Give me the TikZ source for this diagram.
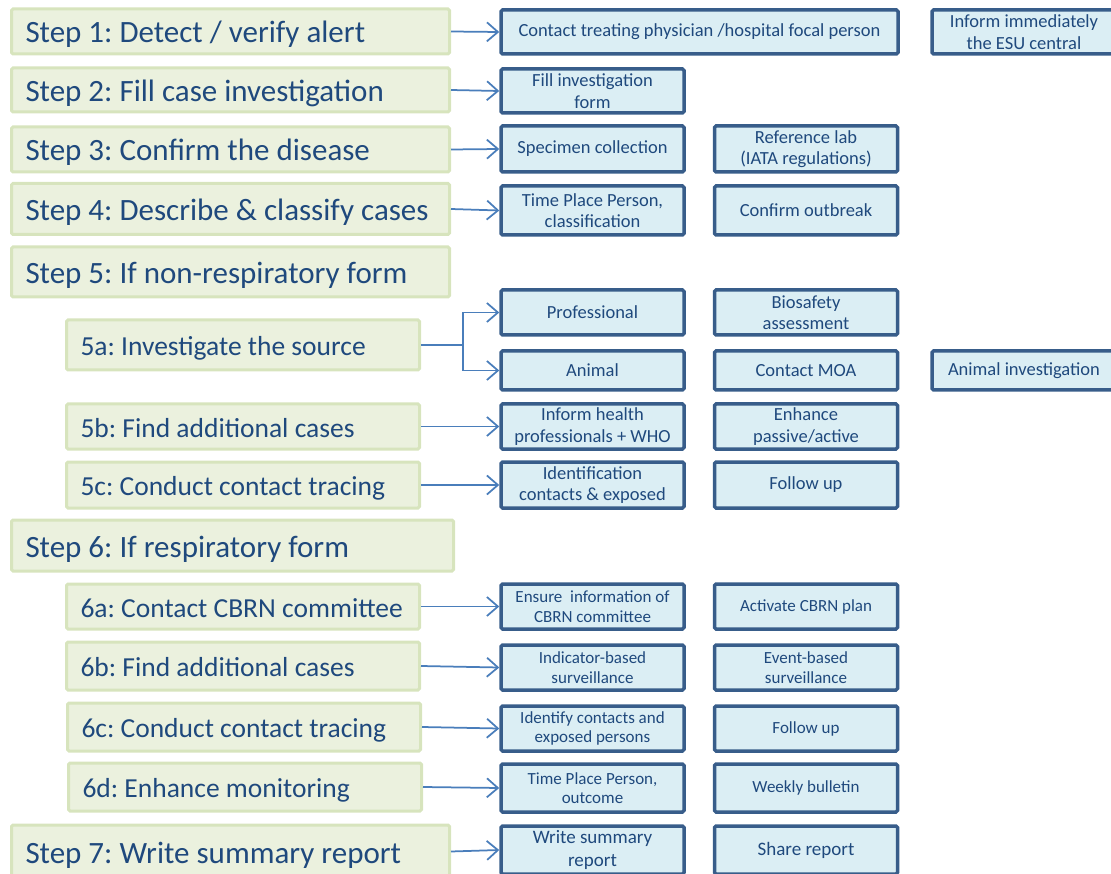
\documentclass[tikz,border=0pt]{standalone}
\usepackage{fontspec}
\setmainfont{Carlito}
\usetikzlibrary{arrows.meta}

\definecolor{stepfill}{HTML}{EBF1DE}
\definecolor{stepline}{HTML}{D7E4BD}
\definecolor{taskfill}{HTML}{DBEEF4}
\definecolor{taskline}{HTML}{385D8A}
\definecolor{textblue}{HTML}{1F497D}
\definecolor{arrowblue}{HTML}{4A7EBB}

\tikzset{
  stepbox/.style={draw=stepline, fill=stepfill, line width=3pt, rounded corners=1.5pt,
    anchor=west, inner xsep=14pt, inner ysep=0pt, text width=410pt, align=flush left,
    text height=23pt, text depth=0pt, text=textblue, font=\fontsize{31}{34}\selectfont},
  substepbox/.style={stepbox, text width=325pt, text height=21pt,
    font=\fontsize{27.5}{30}\selectfont},
  taskbox/.style={draw=taskline, fill=taskfill, line width=3.5pt, rounded corners=1.5pt,
    inner sep=0pt, minimum width=183pt, minimum height=45pt, align=flush center,
    text=textblue, font=\fontsize{18.5}{21.5}\selectfont},
  smalltask/.style={taskbox, font=\fontsize{17}{19.5}\selectfont},
  flow/.style={draw=arrowblue, line width=1.75pt, -{Straight Barb[length=11pt,width=19pt]}}
}

\begin{document}
\frenchspacing\hyphenpenalty=10000
\begin{tikzpicture}[x=1pt,y=-1pt]
  \useasboundingbox (0,0) rectangle (1111,874);

  % Define the step boxes
  \node[stepbox, minimum height=45pt] (s1) at (10,31.5) {Step 1: Detect / verify alert};
  \node[stepbox, minimum height=44pt] (s2) at (10,90) {Step 2: Fill case investigation};
  \node[stepbox, minimum height=45pt] (s3) at (10,149.5) {Step 3: Confirm the disease};
  \node[stepbox, minimum height=51pt] (s4) at (10,209) {Step 4: Describe \& classify cases};
  \node[stepbox, minimum height=50pt] (s5) at (10,272) {Step 5: If non-respiratory form};
  \node[substepbox, minimum height=50pt] (s5a) at (65,345) {5a: Investigate the source};
  \node[substepbox, minimum height=45pt] (s5b) at (65,426.5) {5b: Find additional cases};
  \node[substepbox, minimum height=46pt] (s5c) at (65,485) {5c: Conduct contact tracing};
  \node[stepbox, text width=414pt, minimum height=51pt] (s6) at (10,545.5) {Step 6: If respiratory form};
  \node[substepbox, minimum height=45pt] (s6a) at (65,606.5) {6a: Contact CBRN committee};
  \node[substepbox, minimum height=48pt] (s6b) at (65,666) {6b: Find additional cases};
  \node[substepbox, minimum height=48pt] (s6c) at (66,727) {6c: Conduct contact tracing};
  \node[substepbox, minimum height=48pt] (s6d) at (67,787) {6d: Enhance monitoring};
  \node[stepbox, minimum height=53pt] (s7) at (10,851.5) {Step 7: Write summary report};

  % Define the task boxes
  \node[taskbox, minimum width=397pt, minimum height=44pt] (contact) at (699.5,32) {Contact treating physician /hospital focal person};
  \node[taskbox, minimum width=184pt, minimum height=44pt] (esu) at (1024,32) {Inform immediately\\the ESU central};
  \node[taskbox, minimum height=44pt] (form) at (592.5,91) {Fill investigation\\form};
  \node[taskbox, minimum height=46pt] (specimen) at (592.5,149) {Specimen collection};
  \node[taskbox, minimum height=46pt] (reflab) at (806,149) {Reference lab\\(IATA regulations)};
  \node[taskbox, minimum height=49pt] (tpp) at (592.5,210.5) {Time Place Person,\\classification};
  \node[taskbox, minimum height=49pt] (outbreak) at (806,210.5) {Confirm outbreak};
  \node[taskbox] (prof) at (592.5,312.5) {Professional};
  \node[taskbox] (biosafety) at (806,312.5) {Biosafety\\assessment};
  \node[taskbox, minimum height=39pt] (animal) at (592.5,370.5) {Animal};
  \node[taskbox, minimum height=39pt] (moa) at (806,370.5) {Contact MOA};
  \node[taskbox, minimum width=184pt, minimum height=39pt] (animalinv) at (1024,370.5) {Animal investigation};
  \node[taskbox] (inform) at (592.5,426.5) {Inform health\\professionals + WHO};
  \node[taskbox] (enhance) at (806,426.5) {Enhance\\passive/active};
  \node[taskbox, minimum height=46pt] (ident) at (592.5,485) {Identification\\contacts \& exposed};
  \node[taskbox, minimum height=46pt] (followa) at (806,485) {Follow up};
  \node[smalltask] (ensure) at (592.5,606.5) {Ensure\ \ information of\\CBRN committee};
  \node[smalltask] (cbrnplan) at (806,606.5) {Activate CBRN plan};
  \node[smalltask] (indicator) at (592.5,667.5) {Indicator-based\\surveillance};
  \node[smalltask] (event) at (806,667.5) {Event-based\\surveillance};
  \node[smalltask] (identify) at (592.5,728.5) {Identify contacts and\\exposed persons};
  \node[smalltask] (followb) at (806,728.5) {Follow up};
  \node[smalltask, minimum height=48pt] (tppout) at (592.5,788) {Time Place Person,\\outcome};
  \node[smalltask, minimum height=48pt] (bulletin) at (806,788) {Weekly bulletin};
  \node[taskbox, minimum height=48pt, font=\fontsize{19}{22.5}\selectfont] (summary) at (592.5,850) {Write summary\\report};
  \node[taskbox, minimum height=48pt, font=\fontsize{19}{22.5}\selectfont] (share) at (806,850) {Share report};

  % Draw the arrows
  \draw[flow] (s1.east) -- (contact.west);
  \draw[flow] (s2.east) -- (form.west);
  \draw[flow] (s3.east) -- (specimen.west);
  \draw[flow] (s4.east) -- (tpp.west);
  \draw[flow] (s5a.east) -- ++(42,0) |- (prof.west);
  \draw[flow] (s5a.east) -- ++(42,0) |- (animal.west);
  \draw[flow] (s5b.east) -- (inform.west);
  \draw[flow] (s5c.east) -- (ident.west);
  \draw[flow] (s6a.east) -- (ensure.west);
  \draw[flow] (s6b.east) -- (indicator.west);
  \draw[flow] (s6c.east) -- (identify.west);
  \draw[flow] (s6d.east) -- (tppout.west);
  \draw[flow] (s7.east) -- (summary.west);
\end{tikzpicture}
\end{document}
